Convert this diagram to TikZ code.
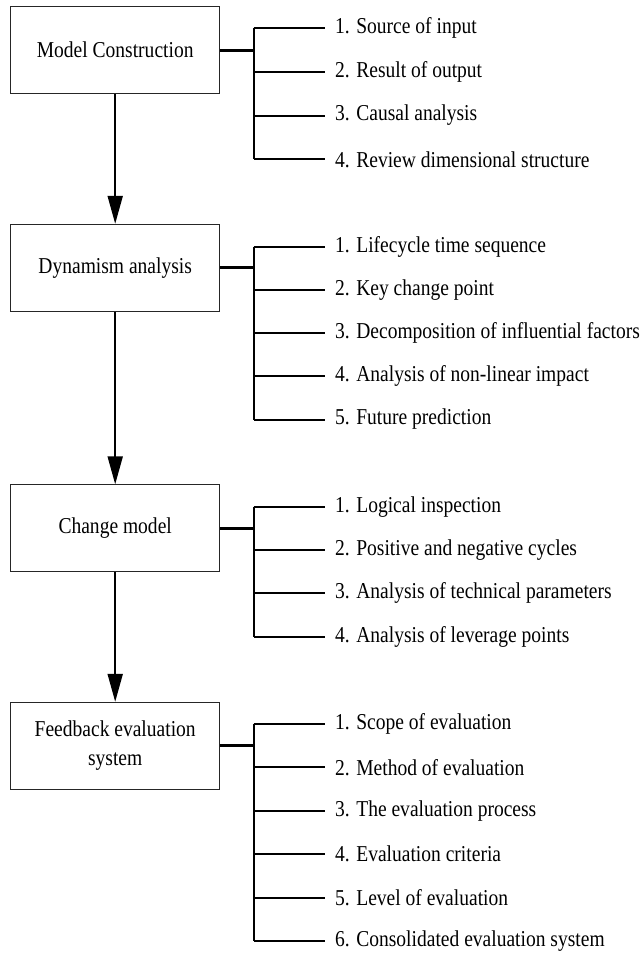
\documentclass[tikz,border=0pt]{standalone}
\usepackage{fontspec}
\setmainfont{Liberation Serif}[FakeStretch=0.86]
\usetikzlibrary{arrows.meta}

\begin{document}
\begin{tikzpicture}[x=1pt, y=-1pt,
        box/.style={draw=black!85, line width=1pt, minimum width=209pt, minimum height=87pt, align=center, font=\fontsize{22.7}{29}\selectfont},
        item/.style={anchor=west, inner xsep=10pt, inner ysep=2pt, font=\fontsize{22.7}{27}\selectfont},
        flow/.style={line width=2pt, -{Triangle[length=28pt, width=15pt]}},
        link/.style={line width=3pt},
        branch/.style={line width=2pt}]
        \useasboundingbox (0,0) rectangle (643,954);

        \node (m1) at (115.2, 50) [box] {Model Construction};
        \node (m2) at (115.2, 267.8) [box] {Dynamism analysis};
        \node (m3) at (115.2, 528.3) [box] {Change model};
        \node (m4) at (115.2, 745.8) [box] {Feedback evaluation\\system};

        \coordinate (b1) at (253.5, 50);
        \coordinate (b2) at (253.5, 267.8);
        \coordinate (b3) at (253.5, 528.3);
        \coordinate (b4) at (253.5, 745.8);

        \node (s11) at (325, 28.3) [item] {1. Source of input};
        \node (s12) at (325, 71.7) [item] {2. Result of output};
        \node (s13) at (325, 115.5) [item] {3. Causal analysis};
        \node (s14) at (325, 159.3) [item] {4. Review dimensional structure};

        \node (s21) at (325, 246.7) [item] {1. Lifecycle time sequence};
        \node (s22) at (325, 289.6) [item] {2. Key change point};
        \node (s23) at (325, 332.8) [item] {3. Decomposition of influential factors};
        \node (s24) at (325, 376.1) [item] {4. Analysis of non-linear impact};
        \node (s25) at (325, 419.5) [item] {5. Future prediction};

        \node (s31) at (325, 506.7) [item] {1. Logical inspection};
        \node (s32) at (325, 550) [item] {2. Positive and negative cycles};
        \node (s33) at (325, 593.3) [item] {3. Analysis of technical parameters};
        \node (s34) at (325, 636.6) [item] {4. Analysis of leverage points};

        \node (s41) at (325, 724) [item] {1. Scope of evaluation};
        \node (s42) at (325, 767.4) [item] {2. Method of evaluation};
        \node (s43) at (325, 810.8) [item] {3. The evaluation process};
        \node (s44) at (325, 854.2) [item] {4. Evaluation criteria};
        \node (s45) at (325, 897.6) [item] {5. Level of evaluation};
        \node (s46) at (325, 941) [item] {6. Consolidated evaluation system};

        \draw [flow] (m1) -- (m2);
        \draw [flow] (m2) -- (m3);
        \draw [flow] (m3) -- (m4);

        \draw [link] (m1.east) -- (b1);
        \draw [link] (m2.east) -- (b2);
        \draw [link] (m3.east) -- (b3);
        \draw [link] (m4.east) -- (b4);

        \draw [branch] (b1 |- s11) -- (b1 |- s14);
        \draw [branch] (b2 |- s21) -- (b2 |- s25);
        \draw [branch] (b3 |- s31) -- (b3 |- s34);
        \draw [branch] (b4 |- s41) -- (b4 |- s46);

        \foreach \b in {s11, s12, s13, s14}
            {\draw [branch] (b1 |- \b) -- (\b.west);}
        \foreach \b in {s21, s22, s23, s24, s25}
            {\draw [branch] (b2 |- \b) -- (\b.west);}
        \foreach \b in {s31, s32, s33, s34}
            {\draw [branch] (b3 |- \b) -- (\b.west);}
        \foreach \b in {s41, s42, s43, s44, s45, s46}
            {\draw [branch] (b4 |- \b) -- (\b.west);}
    \end{tikzpicture}
\end{document}
